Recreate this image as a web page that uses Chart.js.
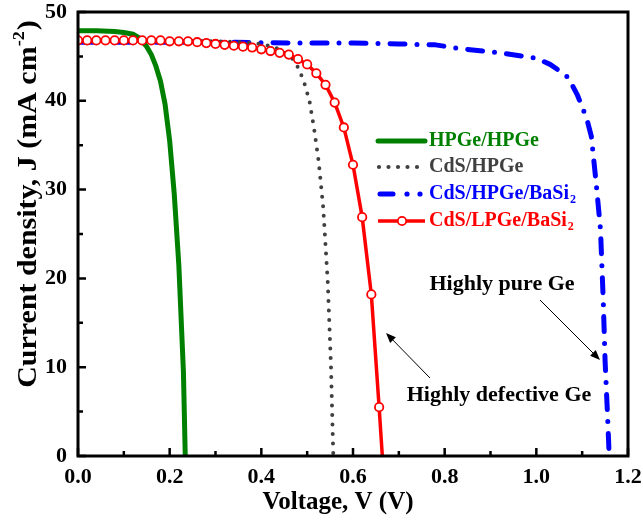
<!DOCTYPE html>
<html>
<head>
<meta charset="utf-8">
<script src="https://cdn.jsdelivr.net/npm/chart.js"></script>
<style>
  body { margin: 0; background: #fff; }
</style>
</head>
<body>
<canvas id="jv" width="643" height="525"></canvas>
<script>
// J-V curves, values
const seriesNames = ["HPGe/HPGe", "CdS/HPGe", "CdS/HPGe/BaSi", "CdS/LPGe/BaSi"];

const hpgeV = [0, 0.04, 0.08, 0.1, 0.12, 0.13, 0.14, 0.15, 0.16, 0.17, 0.18, 0.19, 0.2, 0.21, 0.22, 0.23, 0.234];
const hpgeJ = [47.9, 47.9, 47.8, 47.7, 47.5, 47.2, 46.7, 46.1, 45.2, 43.9, 42.2, 39.6, 35.5, 29.5, 21.5, 9.5, 0];

const cdsV = [0, 0.2, 0.3, 0.36, 0.4, 0.43, 0.45, 0.465, 0.475, 0.485, 0.495, 0.505, 0.515, 0.525, 0.535, 0.545, 0.552, 0.557];
const cdsJ = [46.8, 46.8, 46.7, 46.6, 46.4, 46.0, 45.5, 44.9, 44.3, 43.2, 41.8, 40.0, 36.9, 33.2, 28.0, 19.5, 10.0, 0];

const basiV = [0, 0.3, 0.5, 0.6, 0.7, 0.78, 0.83, 0.92, 1.0, 1.03, 1.05, 1.07, 1.09, 1.1, 1.11, 1.12, 1.13, 1.14, 1.146, 1.15, 1.155, 1.159];
const basiJ = [46.6, 46.6, 46.5, 46.5, 46.4, 46.3, 45.9, 45.4, 44.8, 44.1, 43.4, 42.6, 40.6, 39.3, 38.0, 36.0, 31.0, 25.5, 17.5, 10.7, 5.0, 0];

const lpgeV = [0, 0.02, 0.04, 0.06, 0.08, 0.1, 0.12, 0.14, 0.16, 0.18, 0.2, 0.22, 0.24, 0.26, 0.28, 0.3, 0.32, 0.34,
  0.36, 0.38, 0.4, 0.42, 0.44, 0.46, 0.48, 0.5, 0.52, 0.54, 0.56, 0.58, 0.6, 0.62, 0.64, 0.657, 0.664];
const lpgeJ = [46.8, 46.8, 46.8, 46.8, 46.8, 46.8, 46.8, 46.8, 46.8, 46.8, 46.7, 46.7, 46.7, 46.6, 46.5, 46.4, 46.3, 46.2,
  46.1, 46.0, 45.8, 45.6, 45.4, 45.2, 44.7, 44.1, 43.1, 41.8, 39.8, 37.0, 32.8, 26.9, 18.2, 5.5, 0];

const xTickVals = [0, 0.2, 0.4, 0.6, 0.8, 1.0, 1.2];
const yTickVals = [0, 10, 20, 30, 40, 50];

const GREEN = "#008000", GRAY = "#404040", BLUE = "#0000ff", RED = "#ff0000";
const SERIF = '"Liberation Serif", "Times New Roman", serif';

const pts = (xs, ys) => xs.map((x, i) => ({ x: x, y: ys[i] }));

function arrow(ctx, x0, y0, x1, y1) {
  const ang = Math.atan2(y1 - y0, x1 - x0);
  ctx.beginPath();
  ctx.moveTo(x0, y0);
  ctx.lineTo(x1 - 6 * Math.cos(ang), y1 - 6 * Math.sin(ang));
  ctx.stroke();
  ctx.beginPath();
  ctx.moveTo(x1, y1);
  ctx.lineTo(x1 - 10 * Math.cos(ang) + 4 * Math.sin(ang), y1 - 10 * Math.sin(ang) - 4 * Math.cos(ang));
  ctx.lineTo(x1 - 10 * Math.cos(ang) - 4 * Math.sin(ang), y1 - 10 * Math.sin(ang) + 4 * Math.cos(ang));
  ctx.closePath();
  ctx.fill();
}

// text with a trailing subscript "2"
function subText(ctx, txt, x, y, size) {
  ctx.font = "bold " + size + "px " + SERIF;
  ctx.fillText(txt, x, y);
  const w = ctx.measureText(txt).width;
  ctx.font = "bold " + Math.round(size * 0.62) + "px " + SERIF;
  ctx.fillText("2", x + w + 1, y + 6);
}

const frame = {
  id: "frame",
  afterDraw(chart) {
    const { ctx, chartArea: a, scales: { x, y } } = chart;
    ctx.save();
    ctx.strokeStyle = "#000";
    ctx.fillStyle = "#000";

    // box
    ctx.lineWidth = 3;
    ctx.strokeRect(a.left, a.top, a.right - a.left, a.bottom - a.top);

    // inward ticks, major + minor
    ctx.lineWidth = 2.5;
    ctx.beginPath();
    xTickVals.forEach((v, i) => {
      const px = x.getPixelForValue(v);
      ctx.moveTo(px, a.bottom); ctx.lineTo(px, a.bottom - 8);
      if (i < xTickVals.length - 1) {
        const mx = x.getPixelForValue((v + xTickVals[i + 1]) / 2);
        ctx.moveTo(mx, a.bottom); ctx.lineTo(mx, a.bottom - 5);
      }
    });
    yTickVals.forEach((v, i) => {
      const py = y.getPixelForValue(v);
      ctx.moveTo(a.left, py); ctx.lineTo(a.left + 8, py);
      if (i < yTickVals.length - 1) {
        const my = y.getPixelForValue((v + yTickVals[i + 1]) / 2);
        ctx.moveTo(a.left, my); ctx.lineTo(a.left + 5, my);
      }
    });
    ctx.stroke();

    // axis titles
    ctx.textAlign = "center";
    ctx.textBaseline = "alphabetic";
    ctx.font = "bold 25px " + SERIF;
    ctx.fillText("Voltage, V (V)", 338, 509);

    ctx.save();
    ctx.translate(36, 204);
    ctx.rotate(-Math.PI / 2);
    ctx.scale(1.07, 1);
    ctx.textAlign = "left";
    const big = "bold 28px " + SERIF, small = "bold 17px " + SERIF;
    const p1 = "Current density, J (mA cm", p2 = "-2", p3 = ")";
    ctx.font = big; const w1 = ctx.measureText(p1).width, w3 = ctx.measureText(p3).width;
    ctx.font = small; const w2 = ctx.measureText(p2).width;
    let sx = -(w1 + w2 + w3 + 1) / 2;
    ctx.font = big; ctx.fillText(p1, sx, 0); sx += w1;
    ctx.font = small; ctx.fillText(p2, sx, -12); sx += w2 + 1;
    ctx.font = big; ctx.fillText(p3, sx, 0);
    ctx.restore();

    // legend
    const rows = [141, 167, 194, 221];
    const lx0 = 378, lx1 = 425, tx = 429;
    ctx.lineCap = "round";
    // green
    ctx.strokeStyle = GREEN; ctx.lineWidth = 5;
    ctx.beginPath(); ctx.moveTo(lx0, rows[0]); ctx.lineTo(lx1, rows[0]); ctx.stroke();
    // gray dots
    ctx.fillStyle = GRAY;
    for (let k = 0; k < 5; k++) {
      ctx.beginPath(); ctx.arc(lx0 + 1 + k * 9.5, rows[1], 2.1, 0, Math.PI * 2); ctx.fill();
    }
    // blue dash-dot
    ctx.strokeStyle = BLUE; ctx.fillStyle = BLUE; ctx.lineWidth = 5;
    ctx.beginPath(); ctx.moveTo(lx0 + 2, rows[2]); ctx.lineTo(lx0 + 15, rows[2]); ctx.stroke();
    [407, 420].forEach(cx => { ctx.beginPath(); ctx.arc(cx, rows[2], 2.6, 0, Math.PI * 2); ctx.fill(); });
    // red with circle
    ctx.strokeStyle = RED; ctx.lineWidth = 3.5; ctx.lineCap = "butt";
    ctx.beginPath(); ctx.moveTo(lx0, rows[3]); ctx.lineTo(lx1, rows[3]); ctx.stroke();
    ctx.fillStyle = "#fff"; ctx.lineWidth = 1.8;
    ctx.beginPath(); ctx.arc(402, rows[3], 4.2, 0, Math.PI * 2); ctx.fill(); ctx.stroke();

    ctx.textAlign = "left";
    ctx.textBaseline = "middle";
    ctx.font = "bold 20px " + SERIF;
    ctx.fillStyle = GREEN; ctx.fillText(seriesNames[0], tx, rows[0]);
    ctx.fillStyle = GRAY; ctx.fillText(seriesNames[1], tx, rows[1]);
    ctx.fillStyle = BLUE; subText(ctx, seriesNames[2], tx, rows[2], 20);
    ctx.fillStyle = RED; subText(ctx, seriesNames[3], tx, rows[3], 20);

    // annotations
    ctx.fillStyle = "#000"; ctx.strokeStyle = "#000";
    ctx.textAlign = "center";
    ctx.font = "bold 22px " + SERIF;
    ctx.fillText("Highly pure Ge", 502, 284);
    ctx.fillText("Highly defective Ge", 499, 395);
    ctx.lineWidth = 1;
    arrow(ctx, 540, 300, 600, 360);
    arrow(ctx, 430, 378, 386, 333);

    ctx.restore();
  }
};

const tickFont = { family: SERIF, size: 22, weight: "bold" };

new Chart(document.getElementById("jv"), {
  type: "line",
  data: {
    datasets: [
      {
        label: seriesNames[3], data: pts(lpgeV, lpgeJ), order: 0,
        borderColor: RED, borderWidth: 3.5,
        pointRadius: c => (c.dataIndex === lpgeV.length - 1 ? 0 : 4.2),
        pointBorderWidth: 1.8, pointBackgroundColor: "#fff", pointBorderColor: RED
      },
      {
        label: seriesNames[0], data: pts(hpgeV, hpgeJ), order: 1,
        borderColor: GREEN, borderWidth: 5, pointRadius: 0, borderJoinStyle: "round"
      },
      {
        label: seriesNames[1], data: pts(cdsV, cdsJ), order: 2,
        borderColor: GRAY, borderWidth: 4, pointRadius: 0,
        borderDash: [0, 9.5], borderCapStyle: "round"
      },
      {
        label: seriesNames[2], data: pts(basiV, basiJ), order: 3,
        borderColor: BLUE, borderWidth: 5, pointRadius: 0,
        borderDash: [15, 12, 0, 12], borderCapStyle: "round", borderJoinStyle: "round"
      }
    ]
  },
  options: {
    responsive: false,
    animation: false,
    layout: { padding: { top: 12, right: 15, left: 0, bottom: 0 } },
    plugins: { legend: { display: false }, tooltip: { enabled: false } },
    scales: {
      x: {
        type: "linear", min: 0, max: 1.2,
        afterBuildTicks: s => { s.ticks = xTickVals.map(v => ({ value: v })); },
        afterFit: s => { s.height = 69; s.paddingLeft = 0; s.paddingRight = 0; },
        grid: { display: false, drawTicks: false }, border: { display: false },
        ticks: { font: tickFont, color: "#000", padding: 8, maxRotation: 0, callback: v => v.toFixed(1) }
      },
      y: {
        type: "linear", min: 0, max: 50,
        afterBuildTicks: s => { s.ticks = yTickVals.map(v => ({ value: v })); },
        afterFit: s => { s.width = 78; s.paddingTop = 0; s.paddingBottom = 0; },
        grid: { display: false, drawTicks: false }, border: { display: false },
        ticks: { font: tickFont, color: "#000", padding: 11 }
      }
    }
  },
  plugins: [frame]
});
</script>
</body>
</html>
